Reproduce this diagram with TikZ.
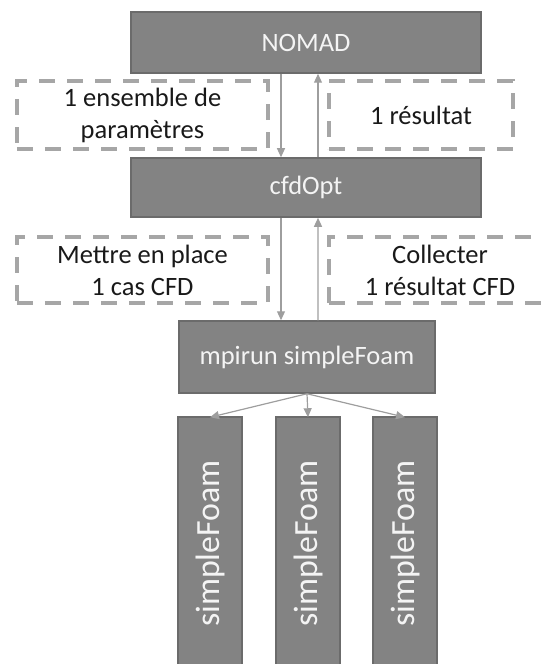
\documentclass[tikz,border=0pt]{standalone}
\usepackage{fontspec}
\setmainfont{Carlito}
\usetikzlibrary{arrows.meta}
\definecolor{boxfill}{HTML}{838383}
\definecolor{boxline}{HTML}{6B6B6B}
\definecolor{boxtext}{HTML}{F4F4F4}
\definecolor{dashgray}{HTML}{A6A6A6}
\definecolor{arrowgray}{HTML}{9E9E9E}
\newcommand{\labelfont}{\fontsize{26.6}{32}\selectfont}

\begin{document}
\begin{tikzpicture}[x=1bp,y=-1bp,
  procbox/.style={draw=boxline, fill=boxfill, line width=1.5bp, text=boxtext, inner sep=0pt, font=\labelfont},
  databox/.style={draw=dashgray, line width=3.5bp, dash pattern=on 16bp off 12bp, inner sep=0pt, align=center, text=black!90, font=\labelfont},
  flow/.style={draw=arrowgray, line width=1.2bp, -{Triangle[length=9bp,width=8bp]}}]
\useasboundingbox (0,0) rectangle (543,664);
\node[procbox, minimum width=350bp, minimum height=61bp] (nomad) at (306,42.5) {NOMAD};
\node[procbox, minimum width=350bp, minimum height=59bp] (cfdopt) at (306,187.5) {cfdOpt};
\node[procbox, minimum width=256bp, minimum height=72bp] (mpirun) at (307,357) {mpirun simpleFoam};
\node[procbox, rotate=90, minimum width=253bp, minimum height=64bp, font=\fontsize{34}{40}\selectfont] (sfa) at (210,543.5) {simpleFoam};
\node[procbox, rotate=90, minimum width=253bp, minimum height=64bp, font=\fontsize{34}{40}\selectfont] (sfb) at (308,543.5) {simpleFoam};
\node[procbox, rotate=90, minimum width=253bp, minimum height=64bp, font=\fontsize{34}{40}\selectfont] (sfc) at (405,543.5) {simpleFoam};
\node[databox, minimum width=251bp, minimum height=68bp] (params) at (142.5,115) {1 ensemble de\\paramètres};
\node[databox, minimum width=184bp, minimum height=68bp] (result) at (421,115) {1 résultat};
\node[databox, minimum width=251bp, minimum height=66bp] (setup) at (142.5,270) {Mettre en place\\1 cas CFD};
\node[databox, minimum width=222bp, minimum height=66bp] (collect) at (440,270) {Collecter\\1 résultat CFD};
\draw[flow] ([xshift=-25bp]nomad.south) -- ([xshift=-25bp]cfdopt.north);
\draw[flow] ([xshift=12bp]cfdopt.north) -- ([xshift=12bp]nomad.south);
\draw[flow] ([xshift=-25bp]cfdopt.south) -- ([xshift=-26bp]mpirun.north);
\draw[flow] ([xshift=11bp]mpirun.north) -- ([xshift=12bp]cfdopt.south);
\draw[flow] (mpirun.south) -- ([yshift=-1bp]sfa.east);
\draw[flow] (mpirun.south) -- ([yshift=-1bp]sfb.east);
\draw[flow] (mpirun.south) -- ([yshift=-1bp]sfc.east);
\end{tikzpicture}
\end{document}
